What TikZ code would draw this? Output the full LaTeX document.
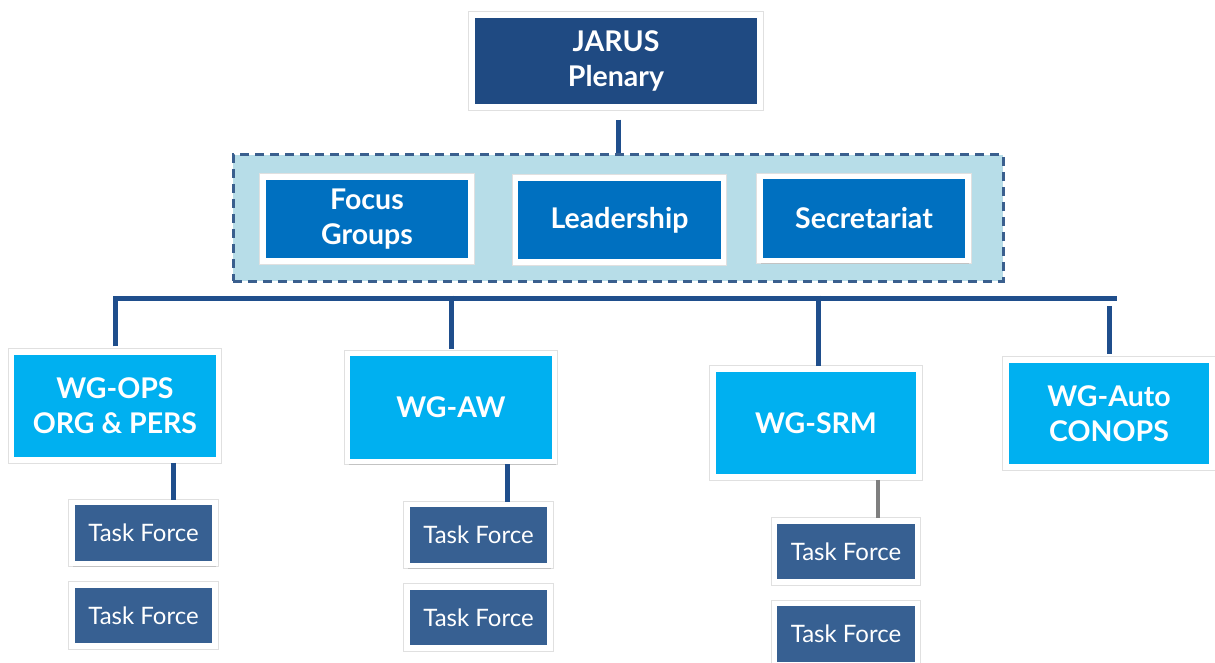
\documentclass[tikz,border=0pt]{standalone}
\usepackage{fontspec}
\setmainfont{Lato}
\usetikzlibrary{shadows}
\definecolor{cDark}{HTML}{1F4A82}
\definecolor{cMid}{HTML}{0070C0}
\definecolor{cCyan}{HTML}{00B0F0}
\definecolor{cTF}{HTML}{376092}
\definecolor{cCont}{HTML}{B7DDE8}
\definecolor{cDash}{HTML}{3A5F8E}
\definecolor{cLine}{HTML}{1F4E8C}
\definecolor{cGrey}{HTML}{7F7F7F}
\begin{document}
\begin{tikzpicture}[x=1pt,y=-1pt,
  box/.style={draw=white, line width=5.5pt, inner sep=0pt, align=center, text=white,
    preaction={draw=black!12, line width=7.5pt},
    drop shadow={shadow xshift=1pt, shadow yshift=-3pt, opacity=0.3, fill=black!50}},
  head/.style={box, font=\fontsize{28.5}{35}\selectfont\bfseries},
  lvlA/.style={head, fill=cMid, minimum width=208pt, minimum height=84pt},
  wg/.style={head, fill=cCyan, minimum width=207pt, minimum height=108pt},
  tf/.style={box, fill=cTF, minimum width=143pt, minimum height=61pt, font=\fontsize{24}{28}\selectfont},
  conn/.style={draw=cLine, line width=5pt}]
\useasboundingbox (0,0) rectangle (1215,663);
\fill[white] (0,0) rectangle (1215,663);

% top
\node[head, fill=cDark, minimum width=288pt, minimum height=92pt] (jarus) at (616,61) {JARUS\\Plenary};

% group container
\node[draw=cDash, fill=cCont, line width=3pt, dash pattern=on 9pt off 6pt,
      minimum width=770pt, minimum height=126pt] (group) at (618,218) {};
\node[lvlA] (focus) at (367,219) {Focus\\Groups};
\node[lvlA] (lead) at (619.5,220) {Leadership};
\node[lvlA] (secr) at (864,218.5) {Secretariat};

% working groups
\node[wg] (wgops) at (115,406) {WG-OPS\\ORG \& PERS};
\node[wg] (wgaw) at (451,407.5) {WG-AW};
\node[wg, minimum width=206pt] (wgsrm) at (816,423) {WG-SRM};
\node[wg, minimum width=206pt, minimum height=107pt] (wgauto) at (1109,413.5) {WG-Auto\\CONOPS};

% task forces
\node[tf] (tf1a) at (143.5,533) {Task Force};
\node[tf] (tf1b) at (143.5,615.5) {Task Force};
\node[tf] (tf2a) at (478.5,535) {Task Force};
\node[tf] (tf2b) at (478.5,617.5) {Task Force};
\node[tf] (tf3a) at (846,551.5) {Task Force};
\node[tf] (tf3b) at (846,634) {Task Force};

% connectors
\draw[conn] ([yshift=-10pt]jarus.south -| group.north) -- (group.north);
\coordinate (busR) at (1117,298);
\draw[conn] ([yshift=3pt]wgops.north) |- (busR);
\draw[conn] ([yshift=2.5pt]wgaw.north |- busR) -- ([yshift=2pt]wgaw.north);
\draw[conn] ([yshift=2.5pt,xshift=2pt]wgsrm.north |- busR) -- ([xshift=2pt]wgsrm.north);
\coordinate (autoTop) at (1109,306);
\draw[conn] (autoTop) -- ([yshift=3pt]wgauto.north);

\draw[conn] ([xshift=58pt]wgops.south) -- ([xshift=58pt]wgops.south |- tf1a.north);
\draw[conn] ([xshift=56pt]wgaw.south) -- ([xshift=56pt]wgaw.south |- tf2a.north);
\draw[draw=cGrey, line width=4.5pt] ([xshift=62pt]wgsrm.south) -- ([xshift=62pt]wgsrm.south |- tf3a.north);
\end{tikzpicture}
\end{document}
